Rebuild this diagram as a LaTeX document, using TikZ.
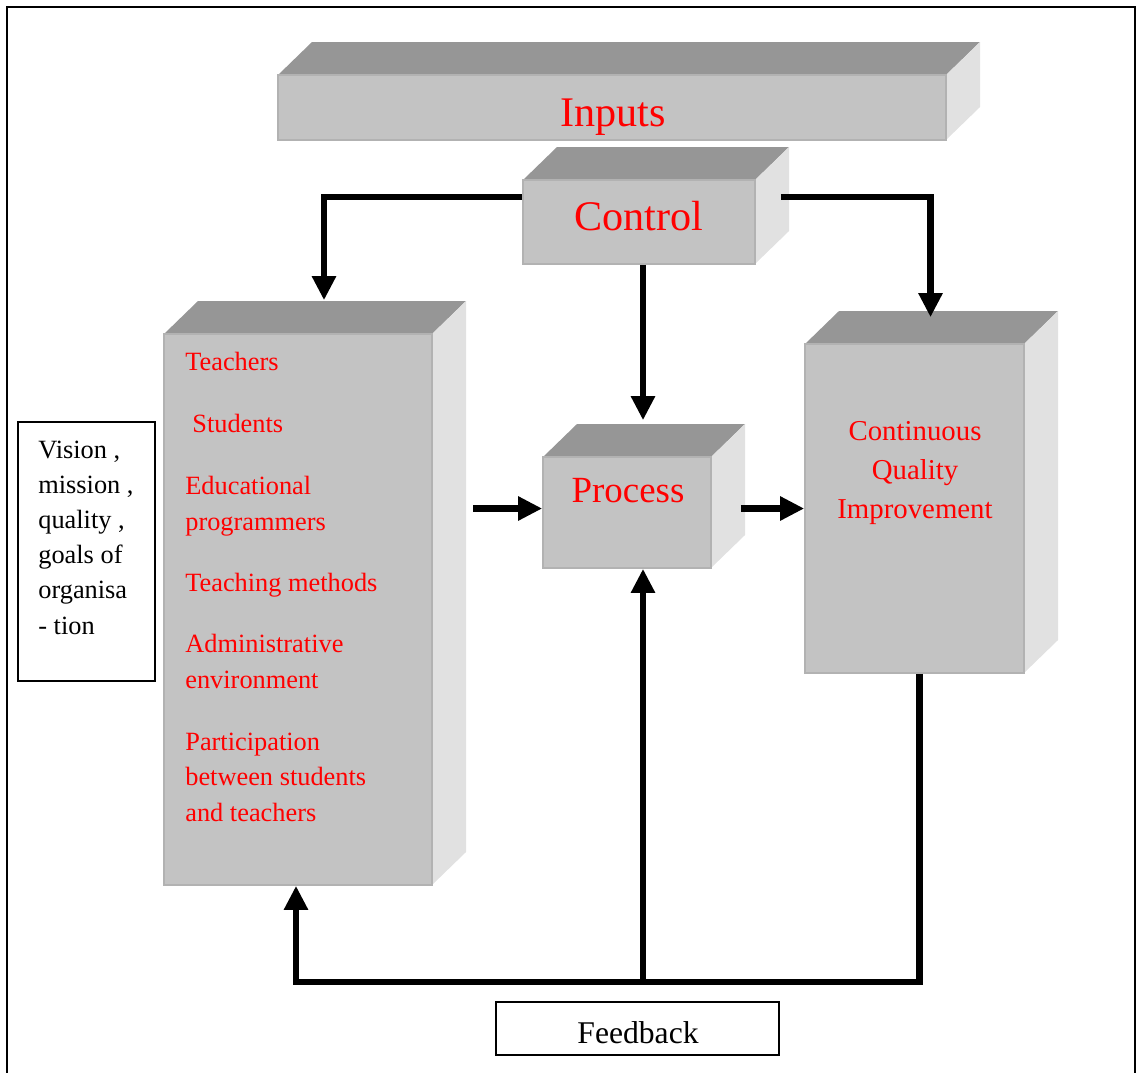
\documentclass[tikz,border=0pt]{standalone}
\usepackage{fontspec}
\setmainfont{Liberation Serif}
\usetikzlibrary{positioning,fit,calc,arrows.meta}

\definecolor{facegray}{HTML}{C3C3C3}
\definecolor{topgray}{HTML}{969696}
\definecolor{sidegray}{HTML}{E1E1E1}
\definecolor{edgegray}{HTML}{B2B2B2}

\tikzset{
  front/.style={fill=facegray, draw=edgegray, line width=0.9pt, inner sep=0pt},
  flow/.style={line width=3.7pt, -{Triangle[length=13.7pt,width=13pt]}},
  plainbox/.style={draw, line width=0.9pt, inner sep=0pt},
  redtext/.style={text=red, inner sep=0pt, font=\fontsize{15}{20.2}\selectfont, anchor=base west, align=left},
  blacktext/.style={inner sep=0pt, font=\fontsize{15}{20}\selectfont, anchor=base west, align=left},
  bigtext/.style={text=red, inner sep=0pt, anchor=base},
}

% 3D box: name, x1, y1, x2, y2 (front face)
\newcommand{\cubebox}[5]{%
  \fill[topgray] (#2,#3) -- ++(34,-33) -- (#4+34,#3-33) -- (#4,#3) -- cycle;
  \fill[sidegray] (#4,#3) -- ++(34,-33) -- (#4+34,#5-33) -- (#4,#5) -- cycle;
  \node[front, fit={(#2,#3) (#4,#5)}] (#1) {};
}

\begin{document}
\begin{tikzpicture}[x=0.02cm, y=-0.02cm]
  \useasboundingbox (0,0) rectangle (1138,1072);

  % Frame
  \draw[line width=1.1pt] (7,7) rectangle (1135,1080);

  % Boxes
  \cubebox{inputs}{278}{75}{946}{140}
  \cubebox{control}{523}{180}{755}{264}
  \cubebox{teachers}{164}{334}{432}{885}
  \cubebox{process}{543}{457}{711}{568}
  \cubebox{cqi}{805}{344}{1024}{673}

  \node[bigtext, font=\fontsize{24}{28}\selectfont] (inputslabel) at (613,126) {Inputs};
  \node[bigtext, font=\fontsize{24}{28}\selectfont] (controllabel) at (639,230) {Control};
  \node[bigtext, font=\fontsize{21}{25}\selectfont] (processlabel) at (628,502) {Process};
  % multi-line nodes: base is the last line
  \node[bigtext, font=\fontsize{16.4}{22.2}\selectfont, align=center] (cqilabel) at (915,518)
    {Continuous\\Quality\\Improvement};

  % Resources list
  \node[redtext] (teach) at (185,370) {Teachers};
  \node[redtext] (stud) at (192,432) {Students};
  \node[redtext] (prog) at (185,530) {Educational\\programmers};
  \node[redtext] (meth) at (185,591) {Teaching methods};
  \node[redtext] (admin) at (185,688) {Administrative\\environment};
  \node[redtext] (part) at (185,821) {Participation\\between students\\and teachers};

  % Side boxes
  \node[plainbox, fit={(18,422) (155,681)}] (vision) {};
  \node[blacktext] (visionlabel) at (38,634)
    {Vision ,\\mission ,\\quality ,\\goals of\\organisa\\- tion};
  \node[plainbox, fit={(496,1002) (779,1055)}] (feedback) {};
  \node[inner sep=0pt, anchor=base, font=\fontsize{18}{22}\selectfont] (feedbacklabel) at (638,1043) {Feedback};

  % Connectors
  \draw[flow] ($(control.north west)+(0,18)$) -| ($(teachers.north)+(26,-33)$);
  \draw[flow] ($(control.north east)+(25,18)$) -| ($(cqi.north)+(16,-26)$);
  \draw[flow] ($(control.south)+(4,0)$) -- ($(process.north)+(16,-36)$);
  \draw[flow] ($(process.west)+(-69,-4)$) -- ($(process.west)+(0,-4)$);
  \draw[flow] ($(process.east)+(29,-4)$) -- ($(process.east -| cqi.west)+(0,-4)$);
  \draw[flow] ($(cqi.south)+(5,0)$) -- ($(cqi.south)+(5,308)$) -| ($(teachers.south)+(-2,0)$);
  \draw[flow] ($(process.south)+(16,413)$) -- ($(process.south)+(16,0)$);
\end{tikzpicture}
\end{document}
